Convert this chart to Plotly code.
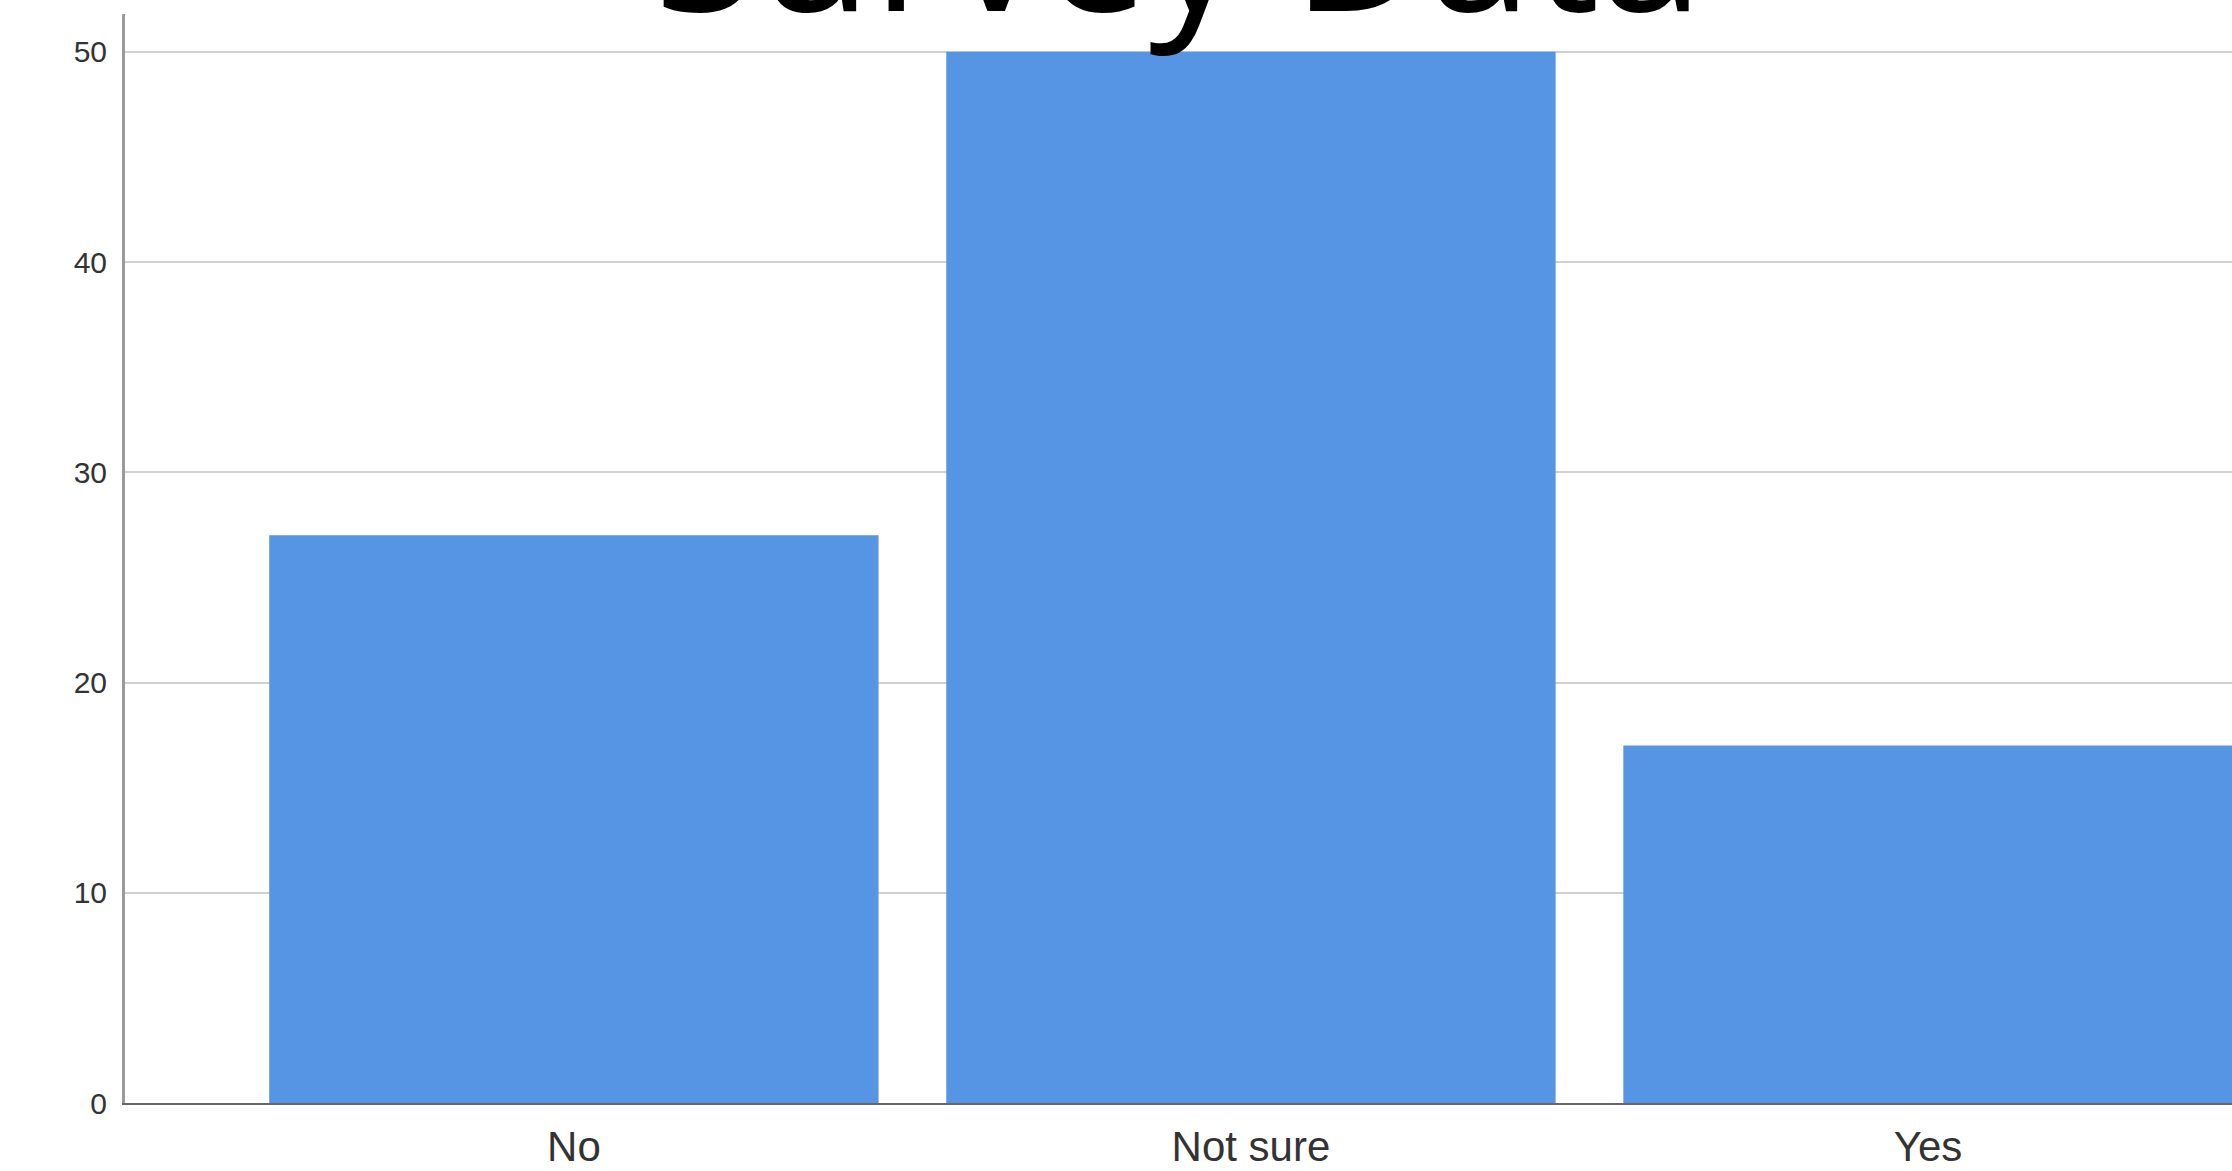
import plotly.graph_objects as go

categories = ["No", "Not sure", "Yes"]
counts = [27, 50, 17]
y_ticks = [0, 10, 20, 30, 40, 50]
title_text = "Survey Data"

fig = go.Figure(
    go.Bar(
        x=categories,
        y=counts,
        marker=dict(color="#5595E3", line=dict(width=0)),
        width=0.9,
    )
)

fig.update_layout(
    width=2232,
    height=1171,
    margin=dict(l=125, r=0, t=14, b=68, autoexpand=False),
    paper_bgcolor="white",
    plot_bgcolor="white",
    showlegend=False,
    font=dict(family="Liberation Sans, Arial, sans-serif", color="#222"),
    annotations=[
        dict(
            text=title_text,
            xref="paper", yref="paper",
            x=0.5, y=0.950,
            xanchor="center", yanchor="bottom",
            showarrow=False,
            font=dict(family="Open Sans", size=188, color="black"),
        )
    ],
)

fig.update_xaxes(
    range=[-0.663, 2.449],
    automargin=False,
    showline=True, linecolor="#666", linewidth=2,
    showgrid=False, ticks="",
    tickfont=dict(size=42, color="#333"),
    ticklabelstandoff=6,
)
fig.update_yaxes(
    range=[0, 51.8],
    automargin=False,
    tickvals=y_ticks,
    showline=True, linecolor="#9a9a9a", linewidth=3,
    showgrid=True, gridcolor="#d0d0d0", gridwidth=2,
    zeroline=False, ticks="",
    tickfont=dict(size=30, color="#333"),
    ticklabelstandoff=9,
)

fig.write_html("out.html")
